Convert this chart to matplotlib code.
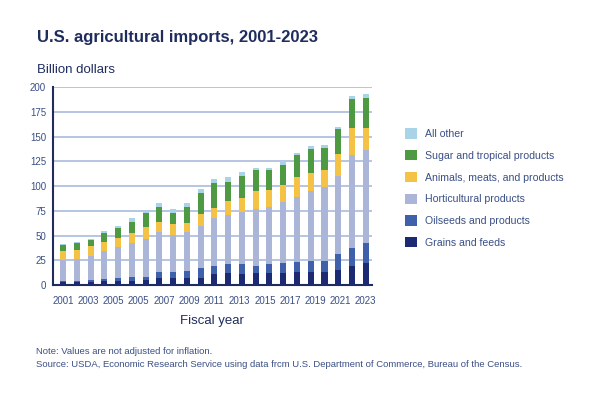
import numpy as np
import matplotlib
matplotlib.use("Agg")
from matplotlib import pyplot as plt

plt.rcParams['font.family'] = ['Liberation Sans', 'DejaVu Sans']

# fiscal years and stacked segments, billion dollars
years = np.arange(2001, 2024)
grains = [2.7, 3.0, 3.5, 4.0, 4.5, 4.4, 5.0, 6.7, 6.7, 7.4, 7.4, 10.8, 11.8,
          11.1, 11.8, 11.8, 11.8, 13.5, 13.5, 13.5, 15.2, 19.6, 21.9]
oilseeds = [1.7, 1.5, 1.9, 2.5, 2.5, 4.1, 3.6, 6.1, 6.1, 7.1, 9.5, 8.4, 9.4,
            9.8, 7.8, 9.1, 10.1, 10.1, 10.8, 10.8, 16.2, 18.2, 20.3]
horticultural = [20.6, 21.5, 24.3, 27.9, 31.0, 33.5, 38.4, 41.2, 38.2, 39.5, 43.1,
                 48.2, 49.6, 52.6, 56.9, 58.4, 61.8, 65.7, 70.7, 74.5, 79.2, 93.7, 94.4]
animals = [9.0, 9.0, 9.8, 9.2, 10.0, 11.0, 12.0, 10.0, 10.7, 9.0, 11.8, 10.8, 14.2,
           14.2, 18.5, 16.7, 17.3, 20.3, 18.6, 17.5, 22.4, 27.0, 21.9]
sugar = [6.0, 7.0, 6.0, 9.4, 9.5, 11.0, 13.7, 14.6, 10.8, 15.6, 20.9, 24.6, 19.5,
         22.3, 21.3, 20.3, 20.4, 21.9, 23.7, 22.0, 24.5, 29.5, 30.5]
other = [1.2, 1.2, 1.5, 2.0, 1.8, 3.5, 2.5, 4.0, 4.0, 4.0, 4.0, 4.2, 4.5,
         4.0, 2.0, 2.0, 4.0, 2.0, 3.5, 3.0, 2.0, 3.5, 4.5]

series_names = ["Grains and feeds", "Oilseeds and products", "Horticultural products",
                "Animals, meats, and products", "Sugar and tropical products", "All other"]
tick_labels = ["2001", "2003", "2005", "2005", "2007", "2009", "2011",
               "2013", "2015", "2017", "2019", "2021", "2023"]

colors = ["#1c2a74", "#3f60aa", "#aab5d8", "#f4c244", "#4d9a43", "#a9d3e6"]
navy = "#1f2d5e"
txt = "#3a4f85"

fig = plt.figure(figsize=(6, 3.98), dpi=100)
ax = fig.add_axes([0.0883, 0.2839, 0.5317, 0.4968])

x = np.arange(len(years))
bottom = np.zeros(len(years))
bars = []
for vals, name, c in zip([grains, oilseeds, horticultural, animals, sugar, other],
                         series_names, colors):
    b = ax.bar(x, vals, width=0.44, bottom=bottom, color=c, label=name, zorder=3)
    bars.append(b)
    bottom += np.array(vals)

ax.set_ylim(0, 200)
ax.set_xlim(-0.73, 22.45)
ax.set_yticks(np.arange(0, 201, 25))
ax.grid(axis="y", color="#a9bbde", linewidth=1.2, zorder=0)
ax.set_xticks(np.linspace(0, 22, 13))
ax.set_xticklabels(tick_labels)
ax.tick_params(axis="both", length=0, labelsize=7, labelcolor=txt)
ax.tick_params(axis="x", pad=8)
ax.tick_params(axis="y", pad=5)
for s in ["top", "right"]:
    ax.spines[s].set_visible(False)
ax.spines["left"].set_color(navy)
ax.spines["left"].set_linewidth(1.5)
ax.spines["bottom"].set_color(navy)
ax.spines["bottom"].set_linewidth(1.5)

handles = [b.patches[0] for b in bars][::-1]
labels = series_names[::-1]
ax.legend(handles, labels, loc="upper left", bbox_to_anchor=(1.075, 0.84),
          frameon=False, fontsize=7.6, labelcolor=txt, handlelength=1.1,
          handleheight=1.1, labelspacing=1.05, handletextpad=0.8)

fig.text(0.062, 0.907, "U.S. agricultural imports, 2001-2023", fontsize=12,
         fontweight="bold", color=navy, va="center")
fig.text(0.062, 0.825, "Billion dollars", fontsize=9.5, color=navy, va="center")
fig.text(0.353, 0.193, "Fiscal year", fontsize=9.5, color=navy, ha="center", va="center")
fig.text(0.06, 0.116, "Note: Values are not adjusted for inflation.",
         fontsize=6.8, color=txt, va="center")
fig.text(0.06, 0.083, "Source: USDA, Economic Research Service using data frcm U.S. "
         "Department of Commerce, Bureau of the Census.", fontsize=6.8, color=txt,
         va="center")

fig.savefig("out.png", dpi=100)
